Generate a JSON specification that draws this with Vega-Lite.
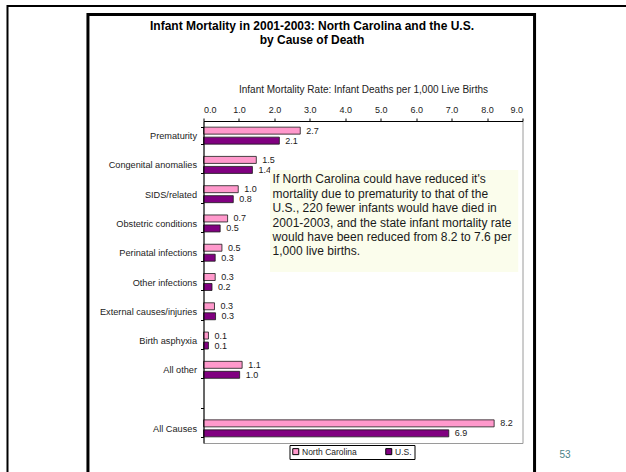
{
  "$schema": "https://vega.github.io/schema/vega-lite/v6.json",
  "width": 319,
  "height": 322,
  "autosize": {"type": "none"},
  "padding": {"left": 203.5, "top": 121, "right": 103.5, "bottom": 29},
  "background": "white",
  "config": {"view": {"stroke": "#9a9a9a", "strokeWidth": 1}},
  "title": {
    "text": ["Infant Mortality  in 2001-2003: North Carolina and the U.S.", "by Cause of Death"],
    "font": "Liberation Sans",
    "fontSize": 12,
    "fontWeight": "bold",
    "color": "black",
    "anchor": "middle",
    "dx": -51,
    "offset": -42,
    "lineHeight": 14
  },
  "data": {
    "values": [
      {"cause": "Prematurity", "series": "North Carolina", "rate": 2.73},
      {"cause": "Prematurity", "series": "U.S.", "rate": 2.14},
      {"cause": "Congenital anomalies", "series": "North Carolina", "rate": 1.49},
      {"cause": "Congenital anomalies", "series": "U.S.", "rate": 1.38},
      {"cause": "SIDS/related", "series": "North Carolina", "rate": 0.98},
      {"cause": "SIDS/related", "series": "U.S.", "rate": 0.84},
      {"cause": "Obstetric conditions", "series": "North Carolina", "rate": 0.68},
      {"cause": "Obstetric conditions", "series": "U.S.", "rate": 0.47},
      {"cause": "Perinatal infections", "series": "North Carolina", "rate": 0.52},
      {"cause": "Perinatal infections", "series": "U.S.", "rate": 0.33},
      {"cause": "Other infections", "series": "North Carolina", "rate": 0.33},
      {"cause": "Other infections", "series": "U.S.", "rate": 0.24},
      {"cause": "External causes/injuries", "series": "North Carolina", "rate": 0.31},
      {"cause": "External causes/injuries", "series": "U.S.", "rate": 0.34},
      {"cause": "Birth asphyxia", "series": "North Carolina", "rate": 0.14},
      {"cause": "Birth asphyxia", "series": "U.S.", "rate": 0.14},
      {"cause": "All other", "series": "North Carolina", "rate": 1.09},
      {"cause": "All other", "series": "U.S.", "rate": 1.02},
      {"cause": "All Causes", "series": "North Carolina", "rate": 8.2},
      {"cause": "All Causes", "series": "U.S.", "rate": 6.92}
    ]
  },
  "layer": [
    {
      "encoding": {
        "y": {
          "field": "cause",
          "type": "nominal",
          "scale": {
            "domain": ["Prematurity", "Congenital anomalies", "SIDS/related", "Obstetric conditions", "Perinatal infections", "Other infections", "External causes/injuries", "Birth asphyxia", "All other", " ", "All Causes"],
            "paddingInner": 0.42,
            "paddingOuter": 0.21
          },
          "axis": {
            "title": null,
            "tickBand": "extent",
            "domainColor": "black",
            "tickColor": "black",
            "tickSize": 3,
            "labelFontSize": 9.2,
            "labelFont": "Liberation Sans",
            "labelColor": "#222222",
            "labelPadding": 4,
            "labelLimit": 200,
            "zindex": 1
          }
        },
        "x": {
          "field": "rate",
          "type": "quantitative",
          "scale": {"domain": [0, 9], "nice": false, "zero": true},
          "axis": {
            "orient": "top",
            "title": "Infant Mortality Rate: Infant Deaths per 1,000 Live Births",
            "values": [0, 1, 2, 3, 4, 5, 6, 7, 8, 9],
            "format": ".1f",
            "grid": false,
            "domainColor": "black",
            "tickColor": "black",
            "tickSize": 3,
            "labelFontSize": 9,
            "labelFont": "Liberation Sans",
            "labelColor": "#222222",
            "labelPadding": 4,
            "titleFontSize": 10,
            "titleFont": "Liberation Sans",
            "titleFontWeight": "normal",
            "titleColor": "#222222",
            "titlePadding": 11,
            "zindex": 1
          }
        },
        "yOffset": {
          "field": "series",
          "type": "nominal",
          "sort": ["North Carolina", "U.S."],
          "scale": {"paddingInner": 0.3}
        }
      },
      "layer": [
        {
          "mark": {"type": "bar", "stroke": "#1a1a1a", "strokeWidth": 0.8},
          "encoding": {
            "color": {
              "field": "series",
              "type": "nominal",
              "sort": ["North Carolina", "U.S."],
              "scale": {"domain": ["North Carolina", "U.S."], "range": ["#FF99CC", "#800080"]},
              "legend": {
                "orient": "none",
                "legendX": 86,
                "legendY": 324,
                "direction": "horizontal",
                "title": null,
                "symbolType": "square",
                "symbolSize": 36,
                "symbolStrokeColor": "black",
                "symbolStrokeWidth": 1,
                "labelFontSize": 8.5,
                "labelFont": "Liberation Sans",
                "labelColor": "#222222",
                "labelOffset": 2,
                "columnPadding": 26,
                "strokeColor": "black",
                "fillColor": "white",
                "padding": 2
              }
            }
          }
        },
        {
          "mark": {"type": "text", "align": "left", "baseline": "middle", "dx": 6, "fontSize": 9, "font": "Liberation Sans", "color": "#1a1a1a"},
          "encoding": {"text": {"field": "rate", "type": "quantitative", "format": ".1f"}}
        }
      ]
    },
    {
      "data": {"values": [{}]},
      "mark": {"type": "rect", "fill": "#FBFDEC"},
      "encoding": {
        "x": {"datum": 1.876, "type": "quantitative", "scale": {"domain": [0, 9], "nice": false}, "axis": null},
        "x2": {"datum": 8.88},
        "y": {"datum": 0.531, "type": "quantitative", "scale": {"domain": [0, 1], "nice": false, "zero": false}, "axis": null},
        "y2": {"datum": 0.848}
      }
    },
    {
      "data": {"values": [{}]},
      "mark": {
        "type": "text",
        "align": "left",
        "baseline": "top",
        "fontSize": 12,
        "lineHeight": 14.4,
        "font": "Liberation Sans",
        "color": "#1a1a1a",
        "text": ["If North Carolina could have reduced it's", "mortality due to prematurity to that of the", "U.S., 220 fewer infants would have died in", "2001-2003, and the state infant mortality rate", "would have been reduced from 8.2 to 7.6 per", "1,000 live births."]
      },
      "encoding": {
        "x": {"datum": 1.95, "type": "quantitative", "scale": {"domain": [0, 9], "nice": false}, "axis": null},
        "y": {"datum": 0.834, "type": "quantitative", "scale": {"domain": [0, 1], "nice": false, "zero": false}, "axis": null}
      }
    },
    {
      "data": {"values": [{}]},
      "mark": {"type": "rect", "filled": false, "stroke": "black", "strokeWidth": 3},
      "encoding": {
        "x": {"datum": -3.26, "type": "quantitative", "scale": {"domain": [0, 9], "nice": false}, "axis": null},
        "x2": {"datum": 9.34},
        "y": {"datum": -0.3, "type": "quantitative", "scale": {"domain": [0, 1], "nice": false, "zero": false}, "axis": null},
        "y2": {"datum": 1.3307}
      }
    },
    {
      "data": {"values": [{}]},
      "mark": {"type": "rect", "filled": false, "stroke": "black", "strokeWidth": 2},
      "encoding": {
        "x": {"datum": -5.53, "type": "quantitative", "scale": {"domain": [0, 9], "nice": false}, "axis": null},
        "x2": {"datum": 13},
        "y": {"datum": -0.3, "type": "quantitative", "scale": {"domain": [0, 1], "nice": false, "zero": false}, "axis": null},
        "y2": {"datum": 1.357}
      }
    },
    {
      "data": {"values": [{}]},
      "mark": {"type": "text", "text": "53", "fontSize": 10, "font": "Liberation Sans", "color": "#4A7F86", "align": "center", "baseline": "middle"},
      "encoding": {
        "x": {"datum": 10.2, "type": "quantitative", "scale": {"domain": [0, 9], "nice": false}, "axis": null},
        "y": {"datum": -0.037, "type": "quantitative", "scale": {"domain": [0, 1], "nice": false, "zero": false}, "axis": null}
      }
    }
  ],
  "resolve": {"scale": {"x": "independent", "y": "independent"}}
}
